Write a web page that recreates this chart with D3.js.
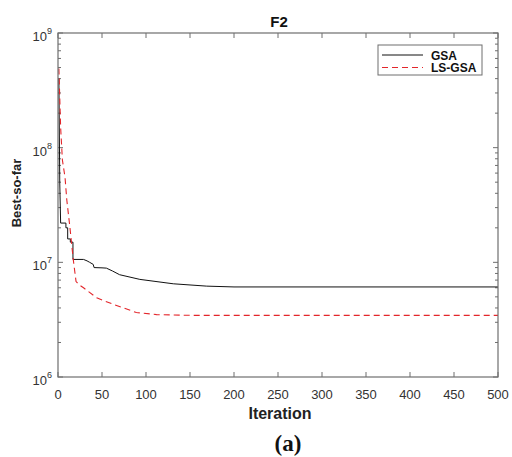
<!DOCTYPE html>
<html>
<head>
<meta charset="utf-8">
<script src="https://cdn.jsdelivr.net/npm/d3@7"></script>
<style>
  body { margin: 0; background: #fff; }
  text { font-family: "Liberation Sans", Arial, sans-serif; }
</style>
</head>
<body>
<div id="chart"></div>
<script>
// curve data
const gsaIter = [1, 2, 3, 9, 9, 11, 11, 14, 14, 17, 17, 29, 33, 36, 40, 41, 50, 55, 62, 70, 93, 131, 169, 200, 500];
const gsaVals = [4.0e8, 5.0e7, 2.2e7, 2.2e7, 2.0e7, 2.0e7, 1.6e7, 1.6e7, 1.5e7, 1.5e7, 1.06e7, 1.06e7, 1.03e7, 1.0e7, 9.6e6, 9.0e6, 8.95e6, 8.9e6, 8.4e6, 7.8e6, 7.1e6, 6.5e6, 6.2e6, 6.1e6, 6.1e6];
const lsIter = [1, 3, 5, 8, 10, 13.6, 17.4, 20.5, 25, 29, 44, 63, 89, 112, 150, 500];
const lsVals = [4.9e8, 1.5e8, 7.8e7, 5.5e7, 3.5e7, 2.0e7, 1.05e7, 6.8e6, 6.3e6, 6.0e6, 4.9e6, 4.3e6, 3.65e6, 3.5e6, 3.45e6, 3.45e6];
const xTicks = [0, 50, 100, 150, 200, 250, 300, 350, 400, 450, 500];
const yExps = [6, 7, 8, 9];
const seriesNames = ["GSA", "LS-GSA"];

const width = 512, height = 457;
const margins = { top: 33, right: 14, bottom: 80, left: 58 };
const axisCol = "#6e6e6e", textCol = "#333";

const x = d3.scaleLinear().domain([0, 500]).range([margins.left, width - margins.right]);
const y = d3.scaleLog().domain([1e6, 1e9]).range([height - margins.bottom, margins.top]);

const svg = d3.select("#chart").append("svg")
    .attr("width", width).attr("height", height);

const x0 = x.range()[0], x1 = x.range()[1], y0 = y.range()[0], y1 = y.range()[1];

// ticks (inward, on all four sides)
const minor = [];
yExps.slice(0, -1).forEach(e => { for (let k = 2; k <= 9; k++) minor.push(k * Math.pow(10, e)); });
const tk = svg.append("g").attr("stroke", axisCol).attr("stroke-width", 1);
xTicks.forEach(t => {
    tk.append("line").attr("x1", x(t)).attr("x2", x(t)).attr("y1", y0).attr("y2", y0 - 5);
    tk.append("line").attr("x1", x(t)).attr("x2", x(t)).attr("y1", y1).attr("y2", y1 + 5);
});
yExps.forEach(e => {
    const v = y(Math.pow(10, e));
    tk.append("line").attr("x1", x0).attr("x2", x0 + 5).attr("y1", v).attr("y2", v);
    tk.append("line").attr("x1", x1).attr("x2", x1 - 5).attr("y1", v).attr("y2", v);
});
minor.forEach(m => {
    const v = y(m);
    tk.append("line").attr("x1", x0).attr("x2", x0 + 3).attr("y1", v).attr("y2", v);
    tk.append("line").attr("x1", x1).attr("x2", x1 - 3).attr("y1", v).attr("y2", v);
});

// curves
const line = d3.line().x(d => x(d[0])).y(d => y(d[1]));
svg.append("path").datum(d3.zip(gsaIter, gsaVals))
    .attr("fill", "none").attr("stroke", "#111").attr("stroke-width", 1).attr("d", line);
svg.append("path").datum(d3.zip(lsIter, lsVals))
    .attr("fill", "none").attr("stroke", "#e3262b").attr("stroke-width", 1.1)
    .attr("stroke-dasharray", "6,4").attr("d", line);

// box
svg.append("rect").attr("x", x0).attr("y", y1).attr("width", x1 - x0).attr("height", y0 - y1)
    .attr("fill", "none").attr("stroke", axisCol).attr("stroke-width", 1.2);

// tick labels
svg.append("g").selectAll("text").data(xTicks).join("text")
    .attr("x", d => x(d)).attr("y", y0 + 22)
    .attr("text-anchor", "middle").attr("font-size", 13).attr("fill", textCol)
    .text(d => d);
const yl = svg.append("g").selectAll("text").data(yExps).join("text")
    .attr("x", x0 - 6).attr("y", d => y(Math.pow(10, d)) + 8)
    .attr("text-anchor", "end").attr("font-size", 13).attr("fill", textCol);
yl.append("tspan").text("10");
yl.append("tspan").attr("font-size", 9).attr("dy", -7).text(d => d);

// labels
svg.append("text").attr("x", 279).attr("y", 27).attr("text-anchor", "middle")
    .attr("font-size", 15).attr("font-weight", "bold").attr("fill", "#111").text("F2");
svg.append("text").attr("x", 280).attr("y", 419).attr("text-anchor", "middle")
    .attr("font-size", 16).attr("font-weight", "bold").attr("fill", "#222").text("Iteration");
svg.append("text").attr("transform", "translate(21,193) rotate(-90)").attr("text-anchor", "middle")
    .attr("font-size", 13).attr("font-weight", "bold").attr("fill", "#222").text("Best-so-far");
svg.append("text").attr("x", 288).attr("y", 451).attr("text-anchor", "middle")
    .style("font-family", "'Liberation Serif', 'Times New Roman', serif")
    .attr("font-size", 23).attr("font-weight", "bold").attr("fill", "#111").text("(a)");

// legend
const lg = svg.append("g");
lg.append("rect").attr("x", 378).attr("y", 45).attr("width", 104).attr("height", 30)
    .attr("fill", "#fff").attr("stroke", axisCol).attr("stroke-width", 1);
const styles = [{ c: "#111", dash: null }, { c: "#e3262b", dash: "6,4" }];
seriesNames.forEach((n, i) => {
    const ly = 55 + i * 12.5;
    lg.append("line").attr("x1", 382).attr("x2", 423).attr("y1", ly).attr("y2", ly)
        .attr("stroke", styles[i].c).attr("stroke-width", 1)
        .attr("stroke-dasharray", styles[i].dash);
    lg.append("text").attr("x", 431).attr("y", ly + 4.5).attr("font-size", 12)
        .attr("font-weight", "bold").attr("fill", "#111").text(n);
});
</script>
</body>
</html>
